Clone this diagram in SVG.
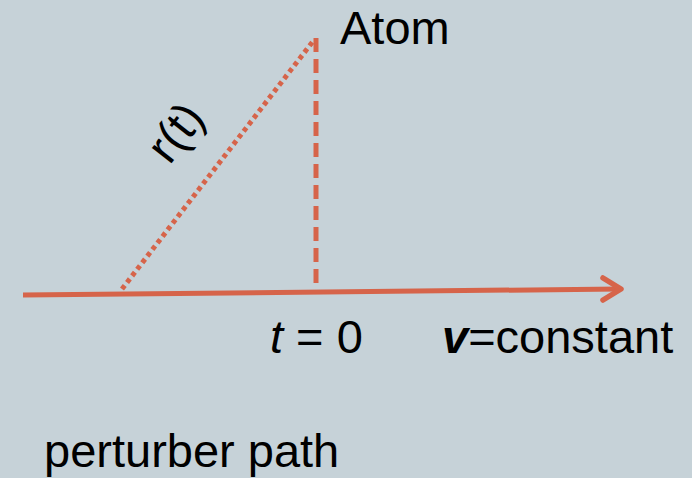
<svg xmlns="http://www.w3.org/2000/svg" width="692" height="478" viewBox="0 0 692 478">
  <style>
    .ln { stroke: #D6644A; fill: none; }
    .txt { font-family: "Liberation Sans", Arial, sans-serif; font-size: 47px; fill: #000; }
  </style>
  <rect width="692" height="478" fill="#C6D2D8"/>
  <g id="connectors">
    <line class="ln" x1="23" y1="295" x2="620" y2="289" stroke-width="5"/>
    <polyline class="ln" points="603,278 621,289 603,300" stroke-width="5.5" stroke-linecap="round" stroke-linejoin="round"/>
    <line class="ln" x1="316" y1="38" x2="316" y2="291" stroke-width="5" stroke-dasharray="14 7"/>
    <line class="ln" x1="122" y1="289" x2="314" y2="40" stroke-width="5" stroke-dasharray="4.5 3.8"/>
  </g>
  <g id="atom"><text class="txt" x="340" y="44">Atom</text></g>
  <g id="rt"><text class="txt" font-size="42" x="188" y="142" text-anchor="middle" transform="rotate(-52 188 142)">r(t)</text></g>
  <g id="t0"><text class="txt" font-size="45" x="270" y="353"><tspan font-style="italic">t</tspan> = 0</text></g>
  <g id="v"><text class="txt" x="442" y="353"><tspan font-weight="bold" font-style="italic">v</tspan>=constant</text></g>
  <g id="path"><text class="txt" x="44" y="467">perturber path</text></g>
</svg>
